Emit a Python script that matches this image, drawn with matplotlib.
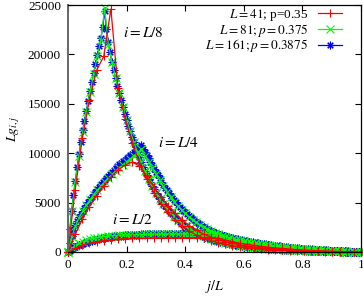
import numpy as np
import matplotlib
matplotlib.use("Agg")
import matplotlib.pyplot as plt

# ---------------- data ----------------
labels = ["$L=41$; p=0.35", "$L=81; p=0.375$", "$L=161; p=0.3875$"]
colors = ["#ff0000", "#00ff00", "#0000ff"]

# L = 41 (42 points, j/L)
red_L8 = [0, 6300, 11500, 15400, 18400, 19800, 24600, 16600, 13500, 11000,
          9000, 7400, 6000, 4900, 4000, 3200, 2600, 2100, 1700, 1400,
          1150, 950, 780, 640, 530, 440, 360, 300, 250, 205,
          170, 140, 115, 95, 75, 60, 45, 33, 22, 13, 6, 0]
red_L4 = [0, 1800, 3300, 4600, 5700, 6700, 7600, 8300, 8800, 9100,
          8700, 7700, 6600, 5600, 4700, 3900, 3200, 2650, 2200, 1800,
          1500, 1250, 1040, 870, 730, 610, 510, 425, 355, 295,
          245, 200, 165, 135, 110, 88, 68, 50, 35, 22, 10, 0]
red_L2 = [0, 400, 700, 900, 1050, 1160, 1240, 1300, 1340, 1370,
          1390, 1405, 1415, 1425, 1432, 1438, 1443, 1447, 1450, 1453, 1455,
          1380, 1200, 1040, 900, 780, 670, 570, 490, 420, 355,
          300, 250, 205, 165, 130, 100, 75, 52, 33, 15, 0]

# L = 81 (81 points)
green_L8 = [0, 4100, 7100, 9700, 12100, 14200, 16200, 18000, 19800, 21500, 24700,
            21000, 19200, 17600, 16100, 14700, 13400, 12200, 11100, 10100, 9100,
            8200, 7400, 6700, 6000, 5400, 4900, 4400, 4000, 3600, 3200,
            2900, 2600, 2350, 2130, 1930, 1750, 1590, 1450, 1320, 1200,
            1100, 1010, 930, 850, 780, 710, 650, 600, 550, 510,
            470, 430, 400, 365, 335, 310, 285, 260, 240, 220,
            205, 190, 175, 160, 145, 132, 120, 110, 98, 88,
            78, 70, 60, 52, 43, 35, 26, 17, 9, 0]
green_L4 = [0, 1500, 2600, 3450, 4150, 4750, 5300, 5800, 6250, 6700,
            7100, 7500, 7850, 8200, 8550, 8850, 9150, 9450, 9750, 10050, 10400,
            9750, 9150, 8550, 7900, 7250, 6650, 6100, 5550,
            5100, 4650, 4250, 3900, 3550, 3250, 3000, 2750,
            2550, 2350, 2150, 1950, 1800, 1650, 1520, 1400,
            1300, 1200, 1110, 1030, 950, 880, 810, 750,
            690, 635, 585, 540, 495, 455, 415, 380,
            350, 320, 295, 270, 245, 220, 200, 180,
            160, 142, 125, 108, 93, 78, 63, 50,
            37, 25, 12, 0]
green_L2 = [0, 380, 650, 870, 1040, 1180, 1290, 1380, 1450, 1510,
            1560, 1600, 1635, 1665, 1690, 1710, 1725, 1738, 1750, 1760,
            1768, 1775, 1781, 1786, 1790, 1794, 1797, 1800, 1803, 1806,
            1808, 1810, 1812, 1814, 1816, 1818, 1819, 1820, 1821, 1822, 1823,
            1720, 1620, 1520, 1430, 1340, 1260, 1180, 1100,
            1030, 960, 900, 840, 780, 725, 670, 620,
            575, 530, 490, 450, 415, 380, 350, 320,
            292, 265, 240, 215, 192, 170, 148, 128,
            110, 92, 76, 60, 45, 30, 15, 0]

# L = 161 (161 points)
blue_L8 = [0, 2300, 4200, 5800, 7200, 8600, 9900, 11100, 12300, 13300,
           14300, 15300, 16300, 17200, 18100, 19000, 19900, 20800, 21700, 22800, 24400,
           22600, 21300, 20200, 19200, 18400, 17600, 16800, 16100,
           15400, 14700, 14000, 13400, 12800, 12200, 11600, 11100,
           10600, 10100, 9600, 9100, 8650, 8200, 7800, 7400,
           7050, 6700, 6350, 6000, 5700, 5400, 5150, 4900,
           4650, 4400, 4200, 4000, 3800, 3600, 3400, 3200,
           3050, 2900, 2750, 2600, 2470, 2350, 2240, 2130,
           2030, 1930, 1840, 1750, 1670, 1590, 1520, 1450,
           1380, 1320, 1260, 1200, 1150, 1100, 1050, 1010,
           970, 930, 890, 850, 810, 780, 740, 710,
           680, 650, 625, 600, 575, 550, 530, 510,
           490, 470, 450, 430, 415, 400, 380, 365,
           350, 335, 322, 310, 297, 285, 272, 260,
           250, 240, 230, 220, 212, 205, 197, 190,
           182, 175, 167, 160, 152, 145, 138, 132,
           126, 120, 115, 110, 104, 98, 93, 88,
           83, 78, 74, 70, 65, 60, 56, 52,
           47, 43, 39, 35, 31, 26, 22, 17,
           13, 9, 4, 0]
blue_L4 = [0, 900, 1600, 2200, 2700, 3100, 3500, 3850, 4200,
           4500, 4800, 5100, 5350, 5600, 5850, 6100, 6350,
           6600, 6850, 7100, 7300, 7500, 7700, 7900, 8100,
           8300, 8500, 8700, 8900, 9050, 9200, 9350, 9500,
           9650, 9800, 9950, 10100, 10250, 10400, 10550, 10800,
           10450, 10100, 9800, 9500, 9150, 8800, 8450, 8100,
           7770, 7450, 7120, 6800, 6520, 6240, 5970, 5700,
           5470, 5240, 5020, 4800, 4600, 4400, 4200, 4000,
           3830, 3660, 3500, 3350, 3210, 3070, 2930, 2800,
           2680, 2570, 2460, 2350, 2250, 2150, 2050, 1950,
           1880, 1810, 1740, 1670, 1600, 1530, 1470, 1400,
           1350, 1300, 1250, 1200, 1150, 1100, 1050, 1000,
           965, 930, 895, 860, 825, 790, 755, 720,
           695, 670, 645, 620, 595, 570, 540, 510,
           490, 470, 450, 435, 415, 395, 380, 360,
           345, 330, 315, 300, 290, 275, 262, 250,
           240, 228, 217, 207, 196, 186, 175, 165,
           157, 149, 141, 133, 125, 117, 108, 100,
           94, 88, 81, 75, 69, 62, 56, 50,
           44, 38, 31, 25, 19, 13, 6, 0]
blue_L2 = [0,
           140, 270, 390, 500, 600, 690, 770, 850,
           920, 985, 1045, 1100, 1150, 1200, 1250, 1300,
           1340, 1380, 1415, 1450, 1480, 1510, 1535, 1560,
           1580, 1600, 1620, 1640, 1655, 1670, 1685, 1700,
           1710, 1720, 1730, 1740, 1750, 1760, 1770, 1780,
           1786, 1792, 1798, 1804, 1810, 1816, 1823, 1830,
           1834, 1838, 1842, 1846, 1850, 1854, 1857, 1860,
           1862, 1865, 1867, 1870, 1872, 1875, 1877, 1880,
           1882, 1884, 1886, 1888, 1890, 1891, 1893, 1895,
           1897, 1899, 1901, 1903, 1905, 1907, 1908, 1910,
           1855, 1800, 1750, 1700, 1650, 1600, 1550, 1500,
           1455, 1410, 1365, 1320, 1277, 1235, 1192, 1150,
           1115, 1080, 1045, 1010, 975, 940, 905, 870,
           842, 815, 787, 760, 732, 705, 677, 650,
           627, 605, 582, 560, 537, 515, 492, 470,
           452, 435, 417, 400, 382, 365, 347, 330,
           315, 301, 287, 272, 258, 244, 229, 215,
           205, 195, 184, 174, 163, 152, 141, 130,
           121, 112, 103, 95, 86, 78, 69, 60,
           52, 45, 37, 30, 22, 15, 7, 0]

x_ticks = [0, 0.2, 0.4, 0.6, 0.8, 1]
x_ticklabels = ["0", "0.2", "0.4", "0.6", "0.8", "1"]
y_ticks = [0, 5000, 10000, 15000, 20000, 25000]

# ---------------- style ----------------
plt.rcParams["font.family"] = ["Liberation Serif", "DejaVu Serif"]
plt.rcParams["mathtext.fontset"] = "stix"
FS = 9.5

fig = plt.figure(figsize=(3.63, 2.96), dpi=100)
ax = fig.add_axes([68 / 363, 44 / 296, 293 / 363, 247 / 296])

series = [
    ("#0000ff", (8, 2, 0), [blue_L8, blue_L4, blue_L2], labels[2]),
    ("#00ff00", "x", [green_L8, green_L4, green_L2], labels[1]),
    ("#ff0000", "+", [red_L8, red_L4, red_L2], labels[0]),
]
handles = {}
for col, mk, curves, lab in series:
    for k, vals in enumerate(curves):
        xs = np.linspace(0, 1, len(vals))
        ln, = ax.plot(xs, vals, color=col, marker=mk, ms=5.5, mew=0.8, lw=0.9,
                      clip_on=False, label=lab if k == 0 else None)
        if k == 0:
            handles[lab] = ln

ax.set_xlim(0, 1)
ax.set_ylim(0, 25000)
ax.set_xticks(x_ticks)
ax.set_xticklabels(x_ticklabels)
ax.set_yticks(y_ticks)
ax.tick_params(direction="in", length=4, width=0.8, top=True, right=True,
               labelsize=FS, pad=5)
for s in ax.spines.values():
    s.set_linewidth(0.9)
ax.spines["left"].set_color("#666666")
ax.spines["left"].set_linewidth(1.4)

ax.set_xlabel("$j/L$", fontsize=FS + 0.5, labelpad=5)
ax.set_ylabel("$Lg_{i,j}$", fontsize=FS + 0.5, labelpad=4)

ax.text(0.188, 22170, "$i = L/8$", fontsize=11, ha="left", va="center")
ax.text(0.307, 11030, "$i = L/4$", fontsize=11, ha="left", va="center")
ax.text(0.150, 3240, "$i = L/2$", fontsize=11, ha="left", va="center")

leg = ax.legend([handles[l] for l in labels], labels, loc="upper right",
                markerfirst=False, frameon=False, fontsize=FS,
                handlelength=1.8, labelspacing=-0.1, borderpad=0,
                borderaxespad=0, handletextpad=0.75,
                bbox_to_anchor=(0.935, 0.992))

fig.savefig("out.png", dpi=100)
